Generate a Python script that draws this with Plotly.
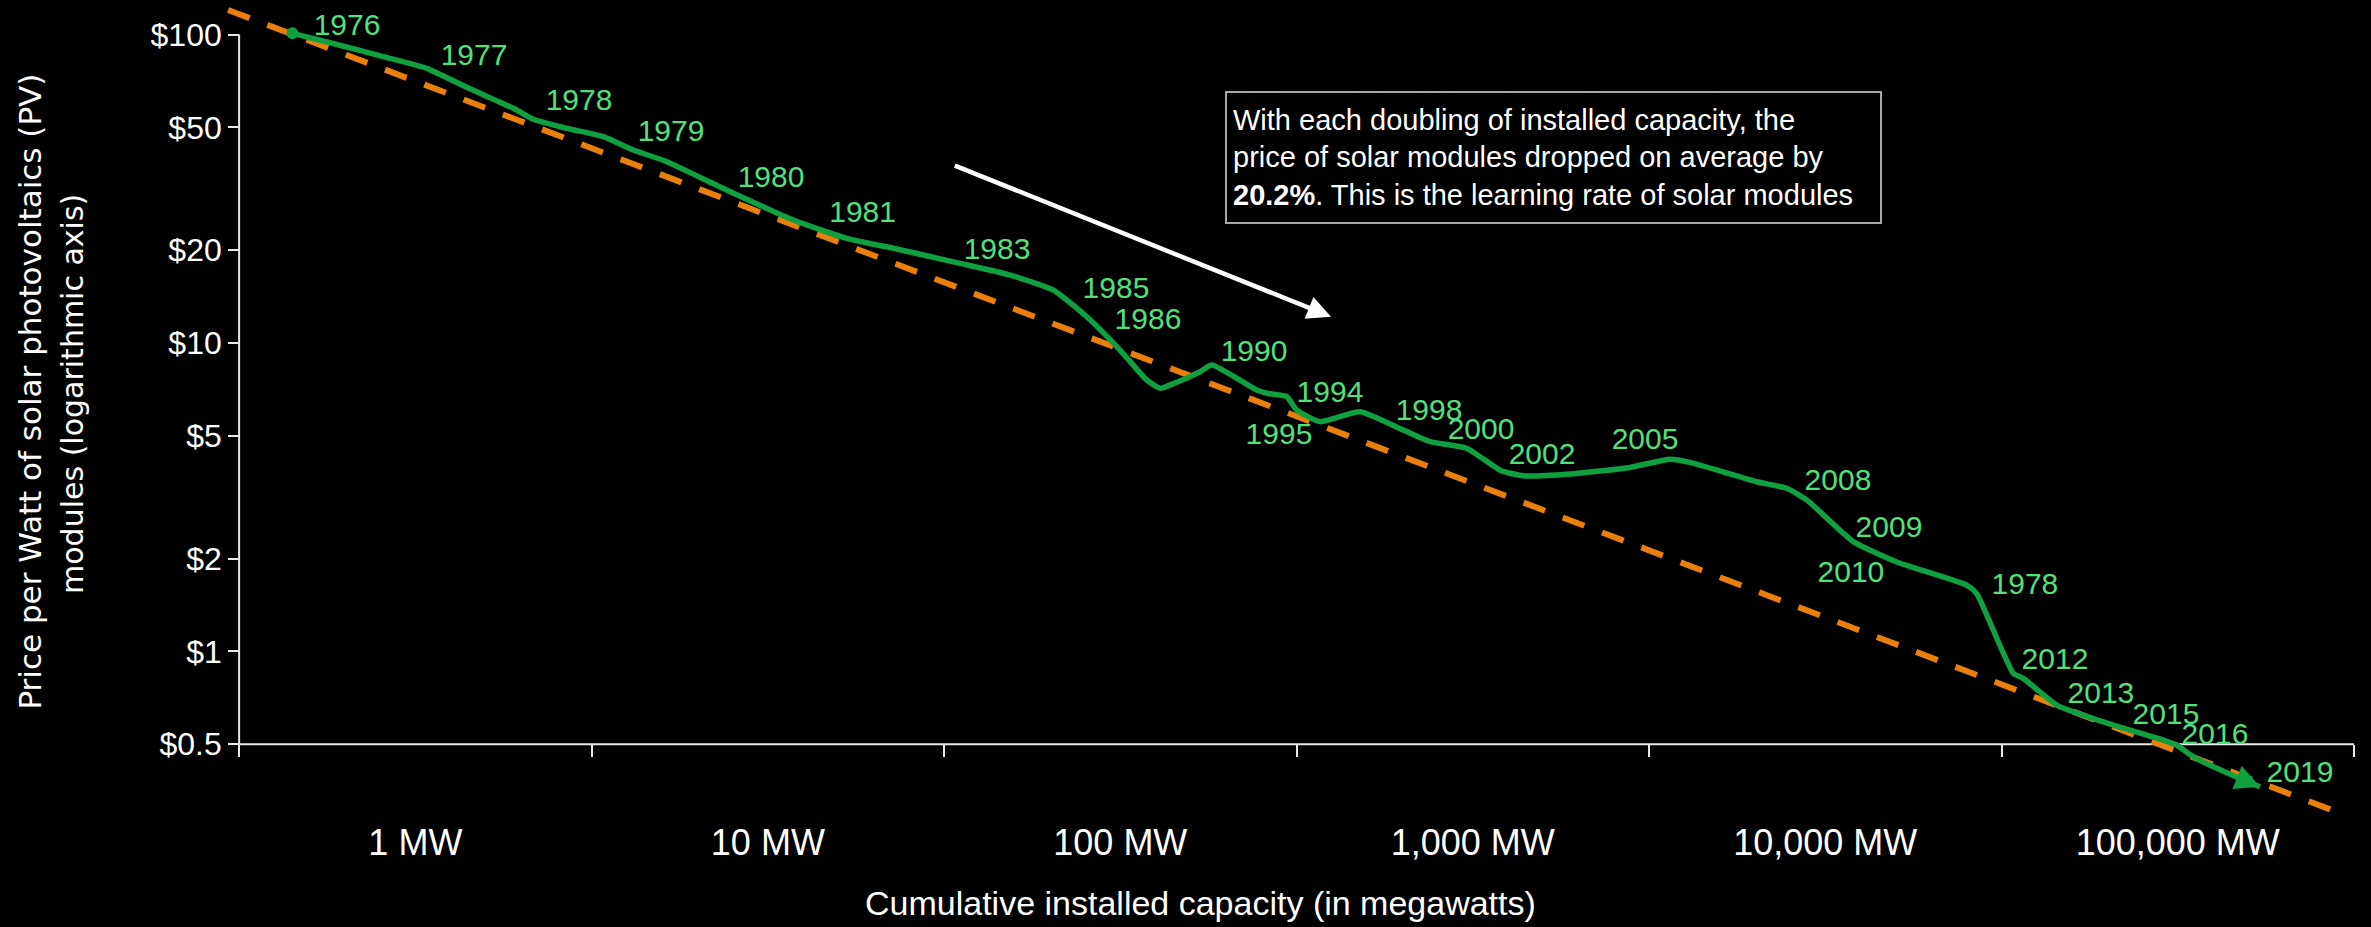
import numpy as np
import plotly.graph_objects as go

# Experience curve of solar PV modules: cumulative installed capacity (MW)
# against module price (USD per watt), read along the curve from 1976 to 2019
capacity_mw = [0.448, 0.573, 0.811, 1.077, 1.399, 1.897, 2.161, 2.689, 3.415, 4.153, 5.110,
               7.645, 11.81, 16.74, 22.70, 35.10, 48.66, 64.56, 80.31, 99.8, 118.8, 129.7,
               143.0, 168.3, 181.7, 243.8, 262.4, 296.6, 316.6, 368.6, 478.6, 635.0, 756.2,
               960.9, 1195, 1391, 1887, 2793, 3626, 4133, 6389, 7774, 8856, 12007, 15944,
               25182, 26890, 34150, 36450, 45350, 65620, 90970, 99290, 110700, 153400, 171100]
price_usd = [100.98, 94.12, 84.82, 77.74, 67.47, 57.68, 53.14, 49.69, 46.67, 42.25, 38.92,
             31.34, 25.05, 21.85, 20.28, 18.13, 16.61, 14.85, 12.17, 9.49, 7.59, 7.13,
             7.42, 8.07, 8.49, 7.04, 6.86, 6.70, 6.06, 5.56, 5.99, 5.22, 4.79,
             4.56, 3.87, 3.71, 3.76, 3.95, 4.20, 4.10, 3.55, 3.38, 3.10, 2.27, 1.95,
             1.64, 1.54, 0.849, 0.818, 0.670, 0.577, 0.516, 0.497, 0.455, 0.383, 0.364]

# Fitted learning-rate line (end points)
trend_mw = [0.2942, 273700]
trend_price = [120.2, 0.306]

# Year labels placed beside the curve
label_years = ['1976', '1977', '1978', '1979', '1980', '1981', '1983', '1985', '1986',
               '1990', '1994', '1995', '1998', '2000', '2002', '2005', '2008', '2009',
               '2010', '1978', '2012', '2013', '2015', '2016', '2019']
label_mw = [0.640, 1.467, 2.913, 5.314, 10.21, 18.57, 44.69, 97.2, 119.8,
            239.5, 393.4, 281.9, 751.2, 1055, 1572, 3080, 10864, 15160,
            11825, 36850, 44840, 60540, 92580, 127500, 222200]
label_price = [105.8, 83.98, 60.45, 47.97, 33.78, 26.20, 19.73, 14.85, 11.70,
               9.28, 6.83, 4.99, 5.97, 5.18, 4.30, 4.78, 3.54, 2.49,
               1.77, 1.62, 0.924, 0.722, 0.617, 0.528, 0.400]

# Axis ticks
x_tick_vals = [1, 10, 100, 1000, 10000, 100000]
x_tick_text = ['1 MW', '10 MW', '100 MW', '1,000 MW', '10,000 MW', '100,000 MW']
x_bounds = [10 ** (k - 0.5) for k in range(7)]          # decade boundaries, tick marks
y_tick_vals = [0.5, 1, 2, 5, 10, 20, 50, 100]
y_tick_text = ['$0.5', '$1', '$2', '$5', '$10', '$20', '$50', '$100']

# Guide arrow (tail -> head) and the note box corner
arrow_tail = (33.59, 37.77)
arrow_head = (396.0, 12.17)
note_corner = (198.0, 65.6)

FONT = 'Liberation Sans Narrow, Arial Narrow, Liberation Sans, sans-serif'
GREEN = '#10A03F'
LABEL_GREEN = '#52E07C'
ORANGE = '#EA7F0C'
AXIS = '#E8E8E8'

x_range = [-0.611, 5.517]
y_range = [-0.5791, 2.0960]
y_axis_pos = (np.log10(x_bounds[0]) - x_range[0]) / (x_range[1] - x_range[0])
x_axis_pos = (np.log10(y_tick_vals[0]) - y_range[0]) / (y_range[1] - y_range[0])

fig = go.Figure()

# learning-rate trend line
fig.add_trace(go.Scatter(
    x=trend_mw, y=trend_price, mode='lines',
    line=dict(color=ORANGE, width=6, dash='23px,19px'),
    hoverinfo='skip'))

# price curve
fig.add_trace(go.Scatter(
    x=capacity_mw, y=price_usd, mode='lines',
    line=dict(color=GREEN, width=5.5, shape='spline', smoothing=0.5)))

# start dot
fig.add_trace(go.Scatter(
    x=capacity_mw[:1], y=price_usd[:1], mode='markers',
    marker=dict(color=GREEN, size=12, line=dict(width=0)),
    cliponaxis=False))

# year labels
fig.add_trace(go.Scatter(
    x=label_mw, y=label_price, mode='text', text=label_years,
    textposition='middle center',
    textfont=dict(family=FONT, size=30, color=LABEL_GREEN),
    cliponaxis=False, hoverinfo='skip'))

# arrowhead closing the price curve
fig.add_annotation(x=np.log10(capacity_mw[-1]), y=np.log10(price_usd[-1]),
                   ax=np.log10(capacity_mw[-2]), ay=np.log10(price_usd[-2]),
                   xref='x', yref='y', axref='x', ayref='y', text='',
                   showarrow=True, arrowhead=2, arrowsize=0.9, arrowwidth=5.5,
                   arrowcolor=GREEN, standoff=0)

# Axis lines
fig.add_shape(type='line', xref='x', yref='y', x0=x_bounds[0], x1=x_bounds[-1],
              y0=y_tick_vals[0], y1=y_tick_vals[0], line=dict(color=AXIS, width=2),
              layer='below')
fig.add_shape(type='line', xref='x', yref='y', x0=x_bounds[0], x1=x_bounds[0],
              y0=y_tick_vals[0], y1=y_tick_vals[-1], line=dict(color=AXIS, width=2),
              layer='below')

# Guide arrow
fig.add_annotation(x=np.log10(arrow_head[0]), y=np.log10(arrow_head[1]),
                   ax=np.log10(arrow_tail[0]), ay=np.log10(arrow_tail[1]),
                   xref='x', yref='y', axref='x', ayref='y', text='',
                   showarrow=True, arrowhead=2, arrowsize=1.05, arrowwidth=4.5,
                   arrowcolor='white', standoff=0)

# Note box
fig.add_annotation(x=np.log10(note_corner[0]), y=np.log10(note_corner[1]),
                   xref='x', yref='y', xanchor='left', yanchor='top',
                   text='With each doubling of installed capacity, the<br>'
                        'price of solar modules dropped on average by<br>'
                        '<b>20.2%</b>. This is the learning rate of solar modules',
                   showarrow=False, align='left', valign='middle',
                   width=641, height=117, borderpad=6, borderwidth=2,
                   bordercolor='#A6A6A6', bgcolor='black',
                   font=dict(family=FONT, size=29, color='white'))

# Axis titles
fig.add_annotation(x=0.463, y=-0.0885, xref='paper', yref='paper',
                   text='Cumulative installed capacity (in megawatts)', showarrow=False,
                   xanchor='center', yanchor='middle',
                   font=dict(family=FONT, size=34, color='white'))
fig.add_annotation(x=-0.0785, y=0.532, xref='paper', yref='paper',
                   text='Price per Watt of solar photovoltaics (PV)', textangle=-90,
                   showarrow=False, xanchor='center', yanchor='middle',
                   font=dict(family='DejaVu Sans, sans-serif', size=31, color='white'))
fig.add_annotation(x=-0.0590, y=0.528, xref='paper', yref='paper',
                   text='modules (logarithmic axis)', textangle=-90,
                   showarrow=False, xanchor='center', yanchor='middle',
                   font=dict(family='DejaVu Sans, sans-serif', size=30, color='white'))

fig.update_layout(
    width=2371, height=927,
    paper_bgcolor='black', plot_bgcolor='black',
    margin=dict(l=200, r=11, t=5, b=97),
    showlegend=False,
    xaxis=dict(type='log', range=x_range, anchor='free', position=x_axis_pos,
               showline=False, showgrid=False, zeroline=False, automargin=False,
               tickmode='array', tickvals=x_tick_vals, ticktext=x_tick_text,
               ticks='', ticklabelstandoff=74,
               tickfont=dict(family=FONT, size=36, color='white'),
               minor=dict(tickmode='array', tickvals=x_bounds, ticks='outside',
                          ticklen=12, tickwidth=2, tickcolor=AXIS, showgrid=False)),
    yaxis=dict(type='log', range=y_range, anchor='free', position=y_axis_pos,
               showline=False, showgrid=False, zeroline=False, automargin=False,
               tickmode='array', tickvals=y_tick_vals, ticktext=y_tick_text,
               ticks='outside', ticklen=11, tickwidth=2, tickcolor=AXIS,
               tickfont=dict(family=FONT, size=32, color='white')),
)

fig.write_html('out.html')
